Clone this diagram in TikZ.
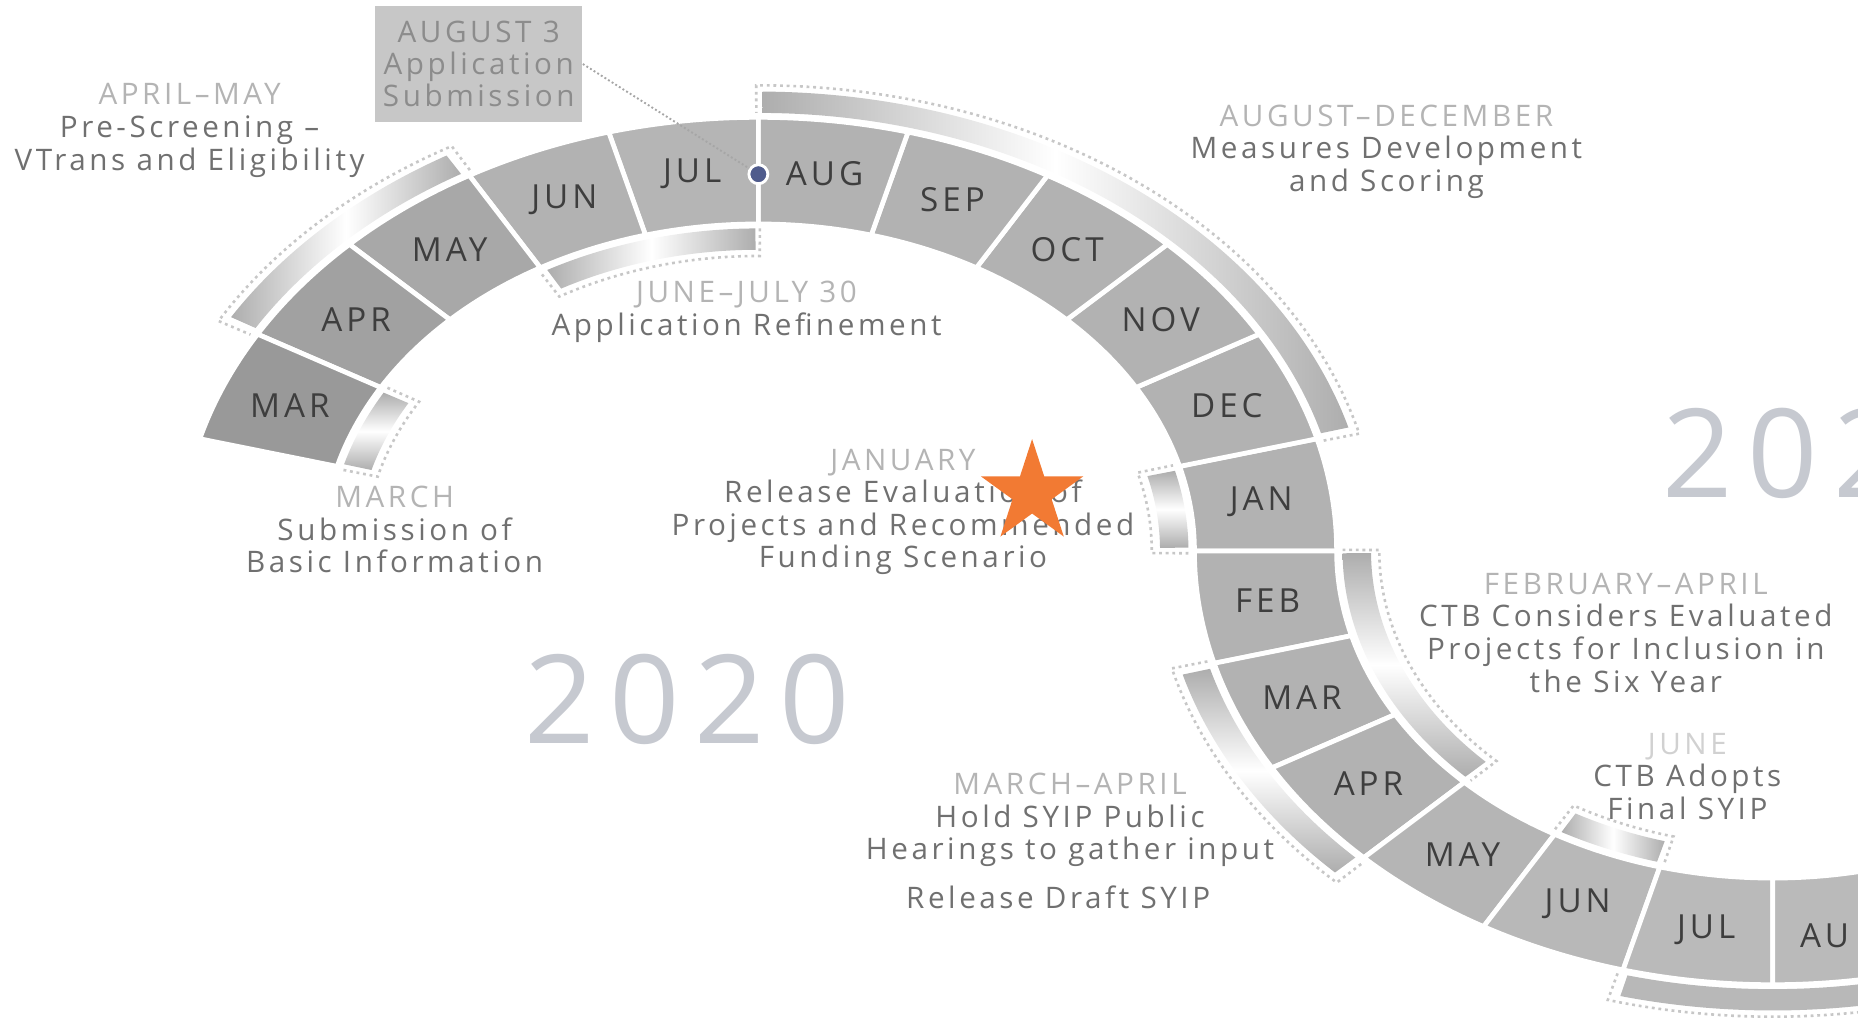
\documentclass[tikz,border=0pt]{standalone}
\usepackage{fontspec}
\setmainfont{Open Sans}[LetterSpace=12]
\usetikzlibrary{shapes.geometric}
\definecolor{segfill}{HTML}{B4B4B4}
\definecolor{labeltxt}{HTML}{3E3E3E}
\definecolor{bodytxt}{HTML}{707070}
\definecolor{headtxt}{HTML}{B4B4B4}
\definecolor{yeartxt}{HTML}{C6C9D0}
\definecolor{starorange}{HTML}{F27A33}
\definecolor{dotblue}{HTML}{4F5B8C}
\tikzset{
  seg/.style={draw=white, line width=2pt},
  month/.style={text=labeltxt, font=\fontsize{14}{16}\selectfont},
  hband/.style={left color=black!32, right color=black!32, middle color=white},
  vband/.style={top color=black!32, bottom color=black!32, middle color=white},
  bandedge/.style={draw=black!22, line width=1.1pt, dash pattern=on 1.2pt off 1.6pt},
  note/.style={text=bodytxt, align=center, font=\fontsize{12.5}{13.75}\selectfont},
  year/.style={text=yeartxt, font=\fontsize{52}{56}\selectfont}
}
\newcommand{\hdr}[1]{\textcolor{headtxt}{#1}}
% ring piece: start angle, end angle, inner r, outer r
\newcommand{\ringpiece}[4]{(#1:#4) arc[start angle=#1, end angle=#2, radius=#4] -- (#2:#3) arc[start angle=#2, end angle=#1, radius=#3] -- cycle}
% open dotted frame round a thin band
\newcommand{\bandframe}[4]{(#1:#3) -- (#1:#4) arc[start angle=#1, end angle=#2, radius=#4] -- (#2:#3)}

\begin{document}
\begin{tikzpicture}[x=0.5pt, y=0.5pt]
\useasboundingbox (0,0) rectangle (1568,-859);
\clip (0,0) rectangle (1568,-859);

% 2020 ring
\begin{scope}[shift={(640,-465)}, yscale=.75]
  \foreach \m/\g [count=\i from 0] in {JAN/30,DEC/30,NOV/30,OCT/30,SEP/30,AUG/30,JUL/29,JUN/30,MAY/34,APR/37,MAR/40} {
    \pgfmathsetmacro\a{15*\i}
    \pgfmathsetmacro\b{15*\i+15}
    \pgfmathsetmacro\c{15*\i+7.5}
    \draw[seg, fill=black!\g] \ringpiece{\a}{\b}{368}{488};
    \node[month] (a\m) at (\c:428) {\m};
  }
  \shade[hband] \ringpiece{120.6}{149.4}{493}{517};
  \draw[bandedge] \bandframe{119.6}{150.4}{493}{524};
  \shade[hband] \ringpiece{15.6}{89.6}{493}{517};
  \draw[bandedge] \bandframe{14.6}{90.2}{493}{524};
  \shade[hband] \ringpiece{90.4}{119.4}{339}{363};
  \draw[bandedge] \bandframe{89.8}{120.4}{363}{332};
  \shade[vband] \ringpiece{150.6}{164.4}{339}{363};
  \draw[bandedge] \bandframe{149.6}{165.4}{363}{332};
  \shade[vband] \ringpiece{0.6}{14.4}{339}{363};
  \draw[bandedge] \bandframe{-0.4}{15.4}{363}{332};
  \node[circle, fill=dotblue, draw=white, line width=1.2pt, minimum size=8pt, inner sep=0pt] (aug3dot) at (90:424) {};
\end{scope}

% 2021 ring
\begin{scope}[shift={(1496,-465)}, yscale=.75]
  \foreach \m/\g [count=\i from 0] in {FEB/30,MAR/30,APR/30,MAY/29,JUN/28,JUL/27} {
    \pgfmathsetmacro\a{180+15*\i}
    \pgfmathsetmacro\b{195+15*\i}
    \pgfmathsetmacro\c{187.5+15*\i}
    \draw[seg, fill=black!\g] \ringpiece{\a}{\b}{368}{488};
    \node[month] (b\m) at (\c:430) {\m};
  }
  \draw[seg, fill=black!27] \ringpiece{270}{285}{368}{488};
  \shade[vband] \ringpiece{180.4}{224.4}{339}{363};
  \draw[bandedge] \bandframe{179.8}{225.4}{363}{332};
  \shade[vband] \ringpiece{195.6}{224.4}{493}{517};
  \draw[bandedge] \bandframe{194.6}{225.4}{493}{524};
  \shade[hband] \ringpiece{240.6}{254.4}{339}{363};
  \draw[bandedge] \bandframe{239.6}{255.4}{363}{332};
  \fill[black!28] \ringpiece{255.6}{300}{493}{517};
  \draw[bandedge] \bandframe{254.6}{300}{493}{524};
\end{scope}
\node[month, anchor=west] (bAUG) at (1512,-790) {AU};

\node[fill=black!22, text=black!45, align=center, font=\fontsize{12.5}{13.5}\selectfont,
  minimum width=81pt, minimum height=49pt] (aug3) at (404,-54) {AUGUST 3\\Application\\Submission};
\draw[black!35, line width=0.8pt, densely dotted] (aug3.east) -- (aug3dot);

\node[note] (aprmay) at (160,-110) {\hdr{APRIL–MAY}\\Pre-Screening –\\VTrans and Eligibility};
\node[note] (augdec) at (1170,-128) {\hdr{AUGUST–DECEMBER}\\Measures Development\\and Scoring};
\node[note] (junjul) at (630,-263) {\hdr{JUNE–JULY 30}\\Application Refinement};
\node[note] (march) at (333,-447) {\hdr{MARCH}\\Submission of\\Basic Information};
\node[note] (january) at (762,-432) {\hdr{JANUARY}\\Release Evaluation of\\Projects and Recommended\\Funding Scenario};
\node[note] (febapr) at (1372,-534) {\hdr{FEBRUARY–APRIL}\\CTB Considers Evaluated\\Projects for Inclusion in\\the Six Year};
\node[note] (june) at (1424,-655) {\textcolor{black!18}{JUNE}\\CTB Adopts\\Final SYIP};
\node[note] (marapr) at (903,-692) {\hdr{MARCH–APRIL}\\Hold SYIP Public\\Hearings to gather input};
\node[note] (draft) at (893,-757) {Release Draft SYIP};

\node[star, star points=5, star point ratio=2.618, fill=starorange, inner sep=0pt, minimum size=45.5pt] (flag) at (871,-416) {};

\node[year] (y2020) at (580,-590) {2020};
\node[year, anchor=west] (y2021) at (1396,-383) {202};
\end{tikzpicture}
\end{document}
